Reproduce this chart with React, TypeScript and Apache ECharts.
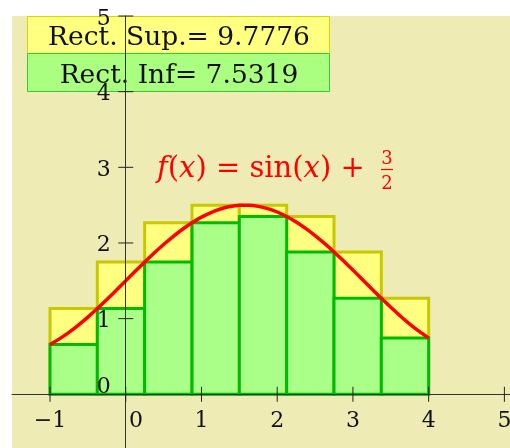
import React, { useEffect, useRef } from "react";
import * as echarts from "echarts";

// Riemann partition of [-1, 4] into 8 sub-intervals
const edges = [-1, -0.375, 0.25, 0.875, 1.5, 2.125, 2.75, 3.375, 4];
const supValues = [1.134, 1.747, 2.268, 2.498, 2.5, 2.351, 1.882, 1.269];
const infValues = [0.659, 1.134, 1.747, 2.268, 2.351, 1.882, 1.269, 0.743];

// curve f(x) = sin(x) + 3/2, read at x = -1 .. 4 step 0.125
const curveX = [
  -1, -0.875, -0.75, -0.625, -0.5, -0.375, -0.25, -0.125, 0, 0.125, 0.25, 0.375, 0.5, 0.625, 0.75, 0.875, 1,
  1.125, 1.25, 1.375, 1.5, 1.625, 1.75, 1.875, 2, 2.125, 2.25, 2.375, 2.5, 2.625, 2.75, 2.875, 3, 3.125, 3.25,
  3.375, 3.5, 3.625, 3.75, 3.875, 4,
];
const curveY = [
  0.6585, 0.7325, 0.8184, 0.9149, 1.0206, 1.1337, 1.2526, 1.3753, 1.5, 1.6247, 1.7474, 1.8663, 1.9794, 2.0851,
  2.1816, 2.2675, 2.3415, 2.4023, 2.449, 2.4809, 2.4975, 2.4985, 2.484, 2.4541, 2.4093, 2.3508, 2.2781, 2.1937,
  2.0985, 1.9939, 1.8817, 1.7635, 1.6411, 1.5166, 1.3918, 1.2685, 1.1492, 1.0352, 0.9284, 0.8306, 0.7432,
];

const xTicks = [-1, 0, 1, 2, 3, 4, 5];
const yTicks = [0, 1, 2, 3, 4, 5];

const supLabel = "Rect. Sup.= 9.7776";
const infLabel = "Rect. Inf= 7.5319";

const SERIF = "'DejaVu Serif', 'Liberation Serif', serif";

function rectData(vals: number[]) {
  return vals.map((v, i) => [edges[i], edges[i + 1], v]);
}

export default function App() {
  const ref = useRef<HTMLDivElement>(null);
  useEffect(() => {
    if (!ref.current) return;
    const chart = echarts.init(ref.current, undefined, { renderer: "svg" });

    const rectRender = (fill: string, stroke: string) => (params: any, api: any) => {
      const x0 = api.value(0);
      const x1 = api.value(1);
      const h = api.value(2);
      const p0 = api.coord([x0, h]);
      const p1 = api.coord([x1, 0]);
      return {
        type: "rect",
        shape: { x: p0[0], y: p0[1], width: p1[0] - p0[0], height: p1[1] - p0[1] },
        style: { fill, stroke, lineWidth: 3 },
      };
    };

    // [x, y, kind] kind 0 = x tick, 1 = y tick
    const tickData = [
      ...xTicks.map((v) => [v, 0, 0]),
      ...yTicks.filter((v) => v !== 0).map((v) => [0, v, 1]),
    ];

    const labelFont = `22px ${SERIF}`;

    chart.setOption({
      animation: false,
      grid: {
        left: 12,
        top: 16,
        right: 0,
        bottom: 0,
        show: true,
        backgroundColor: "#eeebb5",
        borderWidth: 0,
        containLabel: false,
        outerBoundsMode: "none",
      },
      xAxis: {
        type: "value",
        min: -1.502,
        max: 5.074,
        z: 10,
        splitLine: { show: false },
        axisTick: { show: false },
        axisLabel: { show: false },
        axisLine: { onZero: true, lineStyle: { color: "#333", width: 1 } },
      },
      yAxis: {
        type: "value",
        min: -0.71,
        max: 5,
        z: 10,
        splitLine: { show: false },
        axisTick: { show: false },
        axisLabel: { show: false },
        axisLine: { onZero: true, lineStyle: { color: "#333", width: 1 } },
      },
      series: [
        {
          type: "custom",
          z: 2,
          renderItem: rectRender("#ffff80", "#c8c800"),
          encode: { x: [0, 1], y: 2 },
          data: rectData(supValues),
          silent: true,
        },
        {
          type: "custom",
          z: 3,
          renderItem: rectRender("#aaff88", "#00bb00"),
          encode: { x: [0, 1], y: 2 },
          data: rectData(infValues),
          silent: true,
        },
        {
          type: "line",
          z: 4,
          smooth: 0.2,
          showSymbol: false,
          lineStyle: { color: "#ff0000", width: 3.5 },
          data: curveX.map((x, i) => [x, curveY[i]]),
          silent: true,
        },
        {
          type: "custom",
          z: 20,
          renderItem: (params: any, api: any) => {
            const p = api.coord([api.value(0), api.value(1)]);
            const horiz = api.value(2) === 1;
            return {
              type: "line",
              shape: horiz
                ? { x1: p[0] - 7.5, y1: p[1], x2: p[0] + 7.5, y2: p[1] }
                : { x1: p[0], y1: p[1] - 7.5, x2: p[0], y2: p[1] + 7.5 },
              style: { stroke: "#222", lineWidth: 1 },
            };
          },
          encode: { x: 0, y: 1 },
          data: tickData,
          silent: true,
        },
        {
          // x tick labels
          type: "custom",
          z: 21,
          renderItem: (params: any, api: any) => {
            const v = api.value(0);
            const p = api.coord([v, 0]);
            return {
              type: "text",
              x: p[0] + (v === 0 ? 10.3 : 0),
              y: p[1] + 25,
              style: {
                text: v < 0 ? "\u2212" + Math.abs(v) : String(v),
                font: labelFont,
                fill: "#111",
                align: "center",
                verticalAlign: "middle",
              },
            };
          },
          encode: { x: 0, y: 1 },
          data: xTicks.map((v) => [v, 0]),
          silent: true,
        },
        {
          // y tick labels
          type: "custom",
          z: 21,
          renderItem: (params: any, api: any) => {
            const v = api.value(1);
            const p = api.coord([0, v]);
            return {
              type: "text",
              x: p[0] - 15,
              y: p[1] + 1 - (v === 0 ? 10 : 0),
              style: {
                text: String(v),
                font: labelFont,
                fill: "#111",
                align: "right",
                verticalAlign: "middle",
              },
            };
          },
          encode: { x: 0, y: 1 },
          data: yTicks.map((v) => [0, v]),
          silent: true,
        },
      ],
      graphic: [
        {
          type: "rect",
          z: 5,
          shape: { x: 27.5, y: 16.5, width: 302, height: 37 },
          style: { fill: "#ffff80", stroke: "#d6d600", lineWidth: 1 },
        },
        {
          type: "rect",
          z: 5,
          shape: { x: 27.5, y: 53.5, width: 302, height: 38 },
          style: { fill: "#aaff80", stroke: "#33cc33", lineWidth: 1 },
        },
        {
          type: "text",
          z: 6,
          x: 179,
          y: 35,
          style: {
            text: supLabel,
            font: `26.5px ${SERIF}`,
            fill: "#111",
            align: "center",
            verticalAlign: "middle",
          },
        },
        {
          type: "text",
          z: 6,
          x: 179,
          y: 73,
          style: {
            text: infLabel,
            font: `26.5px ${SERIF}`,
            fill: "#111",
            align: "center",
            verticalAlign: "middle",
          },
        },
        {
          type: "text",
          z: 6,
          x: 157,
          y: 167,
          style: {
            text: "{i|f}{n|(}{i|x}{n|) = sin(}{i|x}{n|) + }",
            verticalAlign: "middle",
            align: "left",
            rich: {
              i: { fontFamily: SERIF, fontStyle: "italic", fontSize: 29, fill: "#ff0000", color: "#ff0000" },
              n: { fontFamily: SERIF, fontSize: 29, fill: "#ff0000", color: "#ff0000" },
            },
          },
        },
        {
          type: "text",
          z: 6,
          x: 387,
          y: 157,
          style: { text: "3", font: `18px ${SERIF}`, fill: "#ff0000", align: "center", verticalAlign: "middle" },
        },
        {
          type: "line",
          z: 6,
          shape: { x1: 381, y1: 169.5, x2: 393, y2: 169.5 },
          style: { stroke: "#ff0000", lineWidth: 1.2 },
        },
        {
          type: "text",
          z: 6,
          x: 387,
          y: 182,
          style: { text: "2", font: `18px ${SERIF}`, fill: "#ff0000", align: "center", verticalAlign: "middle" },
        },
      ],
    });
    return () => chart.dispose();
  }, []);
  return <div ref={ref} style={{ position: "fixed", left: 0, top: 0, width: 510, height: 448 }} />;
}
